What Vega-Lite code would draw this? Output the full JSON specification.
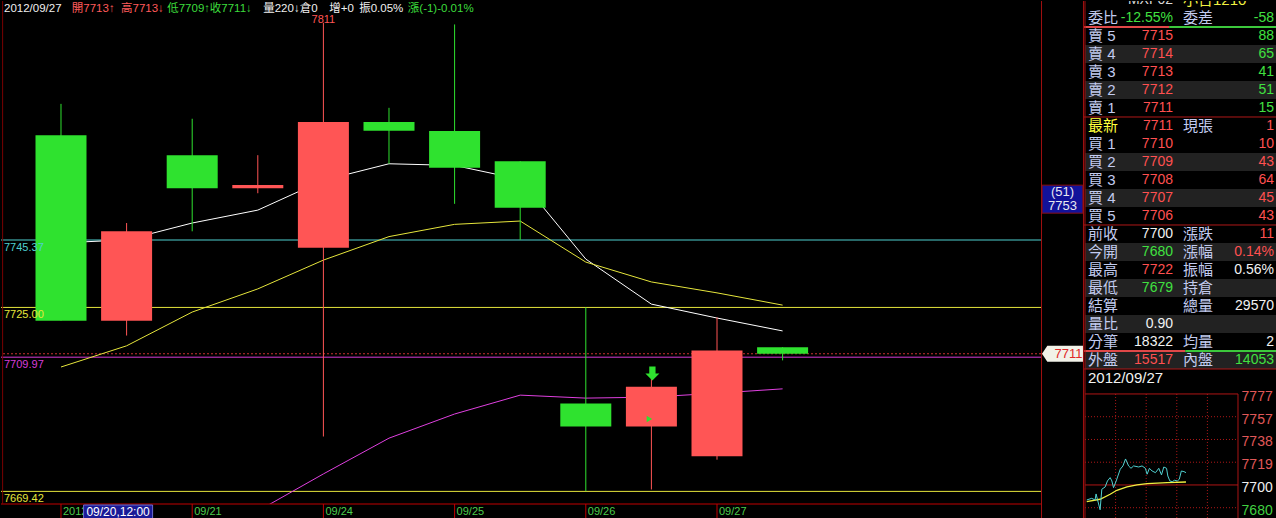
{
  "$schema": "https://vega.github.io/schema/vega-lite/v6.json",
  "background": "#000000",
  "padding": 0,
  "spacing": 0,
  "bounds": "flush",
  "config": {"view": {"stroke": null}, "font": "Liberation Sans", "scale": {"continuousPadding": 0}},
  "datasets": {
    "header": [
      {"col": 0, "t": "2012/09/27", "kind": "flat"},
      {"col": 11.3, "t": "開7713↑", "kind": "up"},
      {"col": 19.5, "t": "高7713↓", "kind": "up"},
      {"col": 27.2, "t": "低7709↑", "kind": "down"},
      {"col": 34.3, "t": "收7711↓", "kind": "down"},
      {"col": 43.2, "t": "量220↓", "kind": "flat"},
      {"col": 49.3, "t": "倉0", "kind": "flat"},
      {"col": 54.2, "t": "增+0", "kind": "flat"},
      {"col": 59.2, "t": "振0.05%", "kind": "flat"},
      {"col": 67.3, "t": "漲(-1)-0.01%", "kind": "down"}
    ],
    "candles": [
      {"i": 1, "day": "2012/09/20", "o": 7777, "h": 7786.5, "l": 7721, "c": 7721},
      {"i": 2, "day": "2012/09/20", "o": 7721, "h": 7750.5, "l": 7716.5, "c": 7748},
      {"i": 3, "day": "2012/09/21", "o": 7771, "h": 7782, "l": 7748, "c": 7761},
      {"i": 4, "day": "2012/09/21", "o": 7761, "h": 7771, "l": 7759.5, "c": 7762},
      {"i": 5, "day": "2012/09/24", "o": 7743, "h": 7811, "l": 7686, "c": 7781},
      {"i": 6, "day": "2012/09/24", "o": 7781, "h": 7785.3, "l": 7768.4, "c": 7778.4},
      {"i": 7, "day": "2012/09/25", "o": 7778.3, "h": 7810.5, "l": 7756.3, "c": 7767.2},
      {"i": 8, "day": "2012/09/25", "o": 7769.2, "h": 7769.2, "l": 7745.4, "c": 7755.1},
      {"i": 9, "day": "2012/09/26", "o": 7696, "h": 7725, "l": 7669.5, "c": 7689},
      {"i": 10, "day": "2012/09/26", "o": 7689, "h": 7704, "l": 7670, "c": 7701},
      {"i": 11, "day": "2012/09/27", "o": 7680, "h": 7722, "l": 7679, "c": 7712},
      {"i": 12, "day": "2012/09/27", "o": 7713, "h": 7713, "l": 7709, "c": 7711}
    ],
    "ma": [
      {"i": 1, "line": "fast", "v": 7744.5}, {"i": 2, "line": "fast", "v": 7745.4},
      {"i": 3, "line": "fast", "v": 7750.5}, {"i": 4, "line": "fast", "v": 7754.4},
      {"i": 5, "line": "fast", "v": 7763.4}, {"i": 6, "line": "fast", "v": 7768.4},
      {"i": 7, "line": "fast", "v": 7767.9}, {"i": 8, "line": "fast", "v": 7763.7},
      {"i": 9, "line": "fast", "v": 7739.6}, {"i": 10, "line": "fast", "v": 7726.0},
      {"i": 11, "line": "fast", "v": 7721.8}, {"i": 12, "line": "fast", "v": 7717.9},
      {"i": 1, "line": "mid", "v": 7707.0}, {"i": 2, "line": "mid", "v": 7713.4},
      {"i": 3, "line": "mid", "v": 7723.6}, {"i": 4, "line": "mid", "v": 7730.6},
      {"i": 5, "line": "mid", "v": 7739.3}, {"i": 6, "line": "mid", "v": 7746.4},
      {"i": 7, "line": "mid", "v": 7750.1}, {"i": 8, "line": "mid", "v": 7751.1},
      {"i": 9, "line": "mid", "v": 7738.7}, {"i": 10, "line": "mid", "v": 7732.7},
      {"i": 11, "line": "mid", "v": 7729.4}, {"i": 12, "line": "mid", "v": 7725.7},
      {"i": 4, "line": "slow", "v": 7663.5}, {"i": 5, "line": "slow", "v": 7674.7},
      {"i": 6, "line": "slow", "v": 7685.5}, {"i": 7, "line": "slow", "v": 7692.8},
      {"i": 8, "line": "slow", "v": 7698.5}, {"i": 9, "line": "slow", "v": 7697.6},
      {"i": 10, "line": "slow", "v": 7697.9}, {"i": 11, "line": "slow", "v": 7699.1},
      {"i": 12, "line": "slow", "v": 7700.4}
    ],
    "levels": [
      {"name": "line1", "p": 7745.37},
      {"name": "line2", "p": 7725.00},
      {"name": "line3", "p": 7709.97},
      {"name": "line4", "p": 7669.42}
    ],
    "last": [{"p": 7711}],
    "signals": [
      {"i": 10, "p": 7705, "kind": "arrow"},
      {"i": 10, "p": 7691.3, "kind": "flag"}
    ],
    "cursor": [{"i": 2, "time": "09/20,12:00", "price": 7753, "n": 51}],
    "table": [
      {"r": -1, "col": 2, "t": "MXF02", "kind": "name"},
      {"r": -1, "col": 3, "t": "小台1210", "kind": "title"},
      {"r": 0, "col": 1, "t": "委比", "kind": "label"},
      {"r": 0, "col": 2, "t": "-12.55%", "kind": "down"},
      {"r": 0, "col": 3, "t": "委差", "kind": "label"},
      {"r": 0, "col": 4, "t": "-58", "kind": "down"},
      {"r": 1, "col": 1, "t": "賣 5", "kind": "label"},
      {"r": 1, "col": 2, "t": "7715", "kind": "up"},
      {"r": 1, "col": 4, "t": "88", "kind": "down"},
      {"r": 2, "col": 1, "t": "賣 4", "kind": "label"},
      {"r": 2, "col": 2, "t": "7714", "kind": "up"},
      {"r": 2, "col": 4, "t": "65", "kind": "down"},
      {"r": 3, "col": 1, "t": "賣 3", "kind": "label"},
      {"r": 3, "col": 2, "t": "7713", "kind": "up"},
      {"r": 3, "col": 4, "t": "41", "kind": "down"},
      {"r": 4, "col": 1, "t": "賣 2", "kind": "label"},
      {"r": 4, "col": 2, "t": "7712", "kind": "up"},
      {"r": 4, "col": 4, "t": "51", "kind": "down"},
      {"r": 5, "col": 1, "t": "賣 1", "kind": "label"},
      {"r": 5, "col": 2, "t": "7711", "kind": "up"},
      {"r": 5, "col": 4, "t": "15", "kind": "down"},
      {"r": 6, "col": 1, "t": "最新", "kind": "latest"},
      {"r": 6, "col": 2, "t": "7711", "kind": "up"},
      {"r": 6, "col": 3, "t": "現張", "kind": "label"},
      {"r": 6, "col": 4, "t": "1", "kind": "up"},
      {"r": 7, "col": 1, "t": "買 1", "kind": "label"},
      {"r": 7, "col": 2, "t": "7710", "kind": "up"},
      {"r": 7, "col": 4, "t": "10", "kind": "up"},
      {"r": 8, "col": 1, "t": "買 2", "kind": "label"},
      {"r": 8, "col": 2, "t": "7709", "kind": "up"},
      {"r": 8, "col": 4, "t": "43", "kind": "up"},
      {"r": 9, "col": 1, "t": "買 3", "kind": "label"},
      {"r": 9, "col": 2, "t": "7708", "kind": "up"},
      {"r": 9, "col": 4, "t": "64", "kind": "up"},
      {"r": 10, "col": 1, "t": "買 4", "kind": "label"},
      {"r": 10, "col": 2, "t": "7707", "kind": "up"},
      {"r": 10, "col": 4, "t": "45", "kind": "up"},
      {"r": 11, "col": 1, "t": "買 5", "kind": "label"},
      {"r": 11, "col": 2, "t": "7706", "kind": "up"},
      {"r": 11, "col": 4, "t": "43", "kind": "up"},
      {"r": 12, "col": 1, "t": "前收", "kind": "label"},
      {"r": 12, "col": 2, "t": "7700", "kind": "flat"},
      {"r": 12, "col": 3, "t": "漲跌", "kind": "label"},
      {"r": 12, "col": 4, "t": "11", "kind": "up"},
      {"r": 13, "col": 1, "t": "今開", "kind": "label"},
      {"r": 13, "col": 2, "t": "7680", "kind": "down"},
      {"r": 13, "col": 3, "t": "漲幅", "kind": "label"},
      {"r": 13, "col": 4, "t": "0.14%", "kind": "up"},
      {"r": 14, "col": 1, "t": "最高", "kind": "label"},
      {"r": 14, "col": 2, "t": "7722", "kind": "up"},
      {"r": 14, "col": 3, "t": "振幅", "kind": "label"},
      {"r": 14, "col": 4, "t": "0.56%", "kind": "flat"},
      {"r": 15, "col": 1, "t": "最低", "kind": "label"},
      {"r": 15, "col": 2, "t": "7679", "kind": "down"},
      {"r": 15, "col": 3, "t": "持倉", "kind": "label"},
      {"r": 16, "col": 1, "t": "結算", "kind": "label"},
      {"r": 16, "col": 3, "t": "總量", "kind": "label"},
      {"r": 16, "col": 4, "t": "29570", "kind": "flat"},
      {"r": 17, "col": 1, "t": "量比", "kind": "label"},
      {"r": 17, "col": 2, "t": "0.90", "kind": "flat"},
      {"r": 18, "col": 1, "t": "分筆", "kind": "label"},
      {"r": 18, "col": 2, "t": "18322", "kind": "flat"},
      {"r": 18, "col": 3, "t": "均量", "kind": "label"},
      {"r": 18, "col": 4, "t": "2", "kind": "flat"},
      {"r": 19, "col": 1, "t": "外盤", "kind": "label"},
      {"r": 19, "col": 2, "t": "15517", "kind": "up"},
      {"r": 19, "col": 3, "t": "內盤", "kind": "label"},
      {"r": 19, "col": 4, "t": "14053", "kind": "down"},
      {"r": 20, "col": 1, "t": "2012/09/27", "kind": "flat"}
    ],
    "ratio": [
      {"r": 0, "side": "buy", "vol": 205},
      {"r": 0, "side": "sell", "vol": 260},
      {"r": 18, "side": "outer", "vol": 15517},
      {"r": 18, "side": "inner", "vol": 14053}
    ],
    "mini_levels": [
      {"lv": 7777}, {"lv": 7757.75}, {"lv": 7738.5}, {"lv": 7719.25}, {"lv": 7700}, {"lv": 7680.75}
    ],
    "mini_times": [{"m": 60}, {"m": 120}, {"m": 180}, {"m": 240}, {"m": 300}],
    "mini_px": [
      {"m": 3.4, "p": 7687.3}, {"m": 13.2, "p": 7688.7}, {"m": 19.7, "p": 7687.3},
      {"m": 21.7, "p": 7692.4}, {"m": 24.3, "p": 7687.9}, {"m": 29.6, "p": 7679},
      {"m": 33, "p": 7696.4}, {"m": 39.5, "p": 7698.3}, {"m": 44, "p": 7703.4},
      {"m": 49.3, "p": 7706.2}, {"m": 52.7, "p": 7703.4}, {"m": 55.9, "p": 7697.7},
      {"m": 61.2, "p": 7703.4}, {"m": 64.5, "p": 7707.6}, {"m": 69.1, "p": 7713.3},
      {"m": 74.4, "p": 7716.1}, {"m": 79.5, "p": 7722}, {"m": 85.5, "p": 7716.1},
      {"m": 90.2, "p": 7714.1}, {"m": 95.3, "p": 7716.1}, {"m": 105.2, "p": 7715.2},
      {"m": 111.9, "p": 7716.1}, {"m": 118.4, "p": 7714.1}, {"m": 121.8, "p": 7709.1},
      {"m": 126.3, "p": 7714.1}, {"m": 131.6, "p": 7711.8}, {"m": 138.2, "p": 7710.4},
      {"m": 144.7, "p": 7714.1}, {"m": 150, "p": 7708.5}, {"m": 154.5, "p": 7715.2},
      {"m": 159.9, "p": 7714.1}, {"m": 162.4, "p": 7707.6}, {"m": 166.4, "p": 7703.4},
      {"m": 171.1, "p": 7702.8}, {"m": 175.7, "p": 7704}, {"m": 181, "p": 7703.4},
      {"m": 184.9, "p": 7704.8}, {"m": 188.9, "p": 7711.8}, {"m": 194, "p": 7711.3},
      {"m": 198, "p": 7710.4}
    ],
    "mini_avg": [
      {"m": 3.4, "p": 7685.9}, {"m": 29.6, "p": 7687.9}, {"m": 49.3, "p": 7692.1},
      {"m": 62.5, "p": 7695.5}, {"m": 82.3, "p": 7698.3}, {"m": 102, "p": 7700},
      {"m": 121.8, "p": 7701.1}, {"m": 161.2, "p": 7701.9}, {"m": 198, "p": 7702.5}
    ]
  },
  "hconcat": [
    {
      "width": 1040,
      "height": 503,
      "resolve": {"scale": {"x": "independent", "color": "independent"}},
      "layer": [
        {
          "data": {"name": "levels"},
          "mark": {"type": "rule", "strokeWidth": 1},
          "encoding": {
            "y": {"field": "p", "type": "quantitative", "scale": {"domain": [7665.61, 7817.58], "nice": false, "zero": false}, "axis": null},
            "color": {"field": "name", "type": "nominal", "scale": {"domain": ["line1", "line2", "line3", "line4"], "range": ["#4fd0d0", "#e6e63c", "#d83cd8", "#e6e63c"]}, "legend": null}
          }
        },
        {
          "data": {"name": "last"},
          "mark": {"type": "rule", "color": "#c83232", "strokeDash": [2, 2]},
          "encoding": {
            "y": {"field": "p", "type": "quantitative", "scale": {"domain": [7665.61, 7817.58], "nice": false, "zero": false}, "axis": null}
          }
        },
        {
          "data": {"name": "ma"},
          "mark": {"type": "line", "strokeWidth": 1, "clip": true},
          "encoding": {
            "x": {"field": "i", "type": "quantitative", "scale": {"domain": [0.0854, 15.939], "nice": false, "zero": false}, "axis": null},
            "y": {"field": "v", "type": "quantitative", "scale": {"domain": [7665.61, 7817.58], "nice": false, "zero": false}, "axis": null},
            "color": {"field": "line", "type": "nominal", "scale": {"domain": ["fast", "mid", "slow"], "range": ["#ffffff", "#e6e63c", "#e040e0"]}, "legend": null}
          }
        },
        {
          "data": {"name": "candles"},
          "mark": {"type": "rule", "strokeWidth": 1},
          "encoding": {
            "x": {"field": "i", "type": "quantitative", "scale": {"domain": [0.0854, 15.939], "nice": false, "zero": false}, "axis": null},
            "y": {"field": "l", "type": "quantitative", "scale": {"domain": [7665.61, 7817.58], "nice": false, "zero": false}, "axis": null},
            "y2": {"field": "h"},
            "color": {"condition": {"test": "datum.c >= datum.o", "value": "#ff5555"}, "value": "#2fe22f"}
          }
        },
        {
          "data": {"name": "candles"},
          "mark": {"type": "bar", "width": 51},
          "encoding": {
            "x": {"field": "i", "type": "quantitative", "scale": {"domain": [0.0854, 15.939], "nice": false, "zero": false}, "axis": null},
            "y": {"field": "o", "type": "quantitative", "scale": {"domain": [7665.61, 7817.58], "nice": false, "zero": false}, "axis": null},
            "y2": {"field": "c"},
            "color": {"condition": {"test": "datum.c >= datum.o", "value": "#ff5555"}, "value": "#2fe22f"}
          }
        },
        {
          "data": {"name": "levels"},
          "mark": {"type": "text", "align": "left", "baseline": "top", "dx": 3, "dy": 2, "fontSize": 11, "font": "Liberation Sans"},
          "encoding": {
            "x": {"datum": 0.0854, "type": "quantitative", "scale": {"domain": [0.0854, 15.939], "nice": false, "zero": false}, "axis": null},
            "y": {"field": "p", "type": "quantitative", "scale": {"domain": [7665.61, 7817.58], "nice": false, "zero": false}, "axis": null},
            "text": {"field": "p", "type": "quantitative", "format": ".2f"},
            "color": {"field": "name", "type": "nominal", "scale": {"domain": ["line1", "line2", "line3", "line4"], "range": ["#4fd0d0", "#e6e63c", "#d83cd8", "#e6e63c"]}, "legend": null}
          }
        },
        {
          "data": {"name": "candles"},
          "transform": [
            {"joinaggregate": [{"op": "max", "field": "h", "as": "hmax"}]},
            {"filter": "datum.h == datum.hmax"}
          ],
          "mark": {"type": "text", "baseline": "bottom", "dy": 2, "fontSize": 11, "color": "#ff5555", "font": "Liberation Sans"},
          "encoding": {
            "x": {"field": "i", "type": "quantitative", "scale": {"domain": [0.0854, 15.939], "nice": false, "zero": false}, "axis": null},
            "y": {"field": "h", "type": "quantitative", "scale": {"domain": [7665.61, 7817.58], "nice": false, "zero": false}, "axis": null},
            "text": {"field": "h", "type": "quantitative", "format": "d"}
          }
        },
        {
          "data": {"name": "signals"},
          "transform": [{"filter": "datum.kind == 'arrow'"}],
          "mark": {"type": "point", "shape": "M-0.45,-1L0.45,-1L0.45,0L1,0L0,1L-1,0L-0.45,0Z", "size": 196, "filled": true, "opacity": 1, "color": "#2fe22f", "xOffset": 1},
          "encoding": {
            "x": {"field": "i", "type": "quantitative", "scale": {"domain": [0.0854, 15.939], "nice": false, "zero": false}, "axis": null},
            "y": {"field": "p", "type": "quantitative", "scale": {"domain": [7665.61, 7817.58], "nice": false, "zero": false}, "axis": null}
          }
        },
        {
          "data": {"name": "signals"},
          "transform": [{"filter": "datum.kind == 'flag'"}],
          "mark": {"type": "point", "shape": "triangle-right", "size": 40, "filled": true, "opacity": 1, "color": "#2fe22f", "xOffset": -2},
          "encoding": {
            "x": {"field": "i", "type": "quantitative", "scale": {"domain": [0.0854, 15.939], "nice": false, "zero": false}, "axis": null},
            "y": {"field": "p", "type": "quantitative", "scale": {"domain": [7665.61, 7817.58], "nice": false, "zero": false}, "axis": null}
          }
        },
        {
          "data": {"name": "last"},
          "mark": {"type": "rule", "color": "#c00000"},
          "encoding": {
            "y": {"datum": 7665.61, "type": "quantitative", "scale": {"domain": [7665.61, 7817.58], "nice": false, "zero": false}, "axis": null}
          }
        },
        {
          "data": {"name": "last"},
          "mark": {"type": "rule", "color": "#7a0000"},
          "encoding": {
            "x": {"datum": 0.11, "type": "quantitative", "scale": {"domain": [0.0854, 15.939], "nice": false, "zero": false}, "axis": null}
          }
        },
        {
          "data": {"name": "candles"},
          "transform": [
            {"window": [{"op": "row_number", "as": "k"}], "groupby": ["day"]},
            {"filter": "datum.k == 1"}
          ],
          "mark": {"type": "rule", "color": "#c00000"},
          "encoding": {
            "x": {"field": "i", "type": "quantitative", "scale": {"domain": [0.0854, 15.939], "nice": false, "zero": false}, "axis": null},
            "y": {"datum": 7665.61, "type": "quantitative", "scale": {"domain": [7665.61, 7817.58], "nice": false, "zero": false}, "axis": null},
            "y2": {"datum": 7661.08}
          }
        },
        {
          "data": {"name": "candles"},
          "transform": [
            {"window": [{"op": "row_number", "as": "k"}], "groupby": ["day"]},
            {"filter": "datum.k == 1"},
            {"calculate": "datum.i == 1 ? datum.day : substring(datum.day, 5)", "as": "lab"}
          ],
          "mark": {"type": "text", "align": "left", "baseline": "middle", "dx": 2, "yOffset": 8, "fontSize": 11, "color": "#4ccc4c", "font": "Liberation Sans"},
          "encoding": {
            "x": {"field": "i", "type": "quantitative", "scale": {"domain": [0.0854, 15.939], "nice": false, "zero": false}, "axis": null},
            "y": {"datum": 7665.61, "type": "quantitative", "scale": {"domain": [7665.61, 7817.58], "nice": false, "zero": false}, "axis": null},
            "text": {"field": "lab"}
          }
        },
        {
          "data": {"name": "cursor"},
          "mark": {"type": "point", "shape": "M-4.93,-1L4.93,-1L4.93,1L-4.93,1Z", "size": 196, "filled": true, "opacity": 1, "fill": "#1a1a96", "stroke": "#6a6ad0", "strokeWidth": 1, "xOffset": -8.5, "yOffset": 8},
          "encoding": {
            "x": {"field": "i", "type": "quantitative", "scale": {"domain": [0.0854, 15.939], "nice": false, "zero": false}, "axis": null},
            "y": {"datum": 7665.61, "type": "quantitative", "scale": {"domain": [7665.61, 7817.58], "nice": false, "zero": false}, "axis": null}
          }
        },
        {
          "data": {"name": "cursor"},
          "mark": {"type": "text", "color": "#ffffff", "fontSize": 12, "font": "Liberation Sans", "xOffset": -8.5, "yOffset": 8, "baseline": "middle"},
          "encoding": {
            "x": {"field": "i", "type": "quantitative", "scale": {"domain": [0.0854, 15.939], "nice": false, "zero": false}, "axis": null},
            "y": {"datum": 7665.61, "type": "quantitative", "scale": {"domain": [7665.61, 7817.58], "nice": false, "zero": false}, "axis": null},
            "text": {"field": "time"}
          }
        },
        {
          "data": {"name": "header"},
          "mark": {"type": "text", "align": "left", "baseline": "middle", "yOffset": 8, "fontSize": 11.5, "font": "Liberation Sans, Noto Sans CJK TC"},
          "encoding": {
            "x": {"field": "col", "type": "quantitative", "scale": {"domain": [-0.5, 172.83], "nice": false, "zero": false}, "axis": null},
            "y": {"datum": 7817.58, "type": "quantitative", "scale": {"domain": [7665.61, 7817.58], "nice": false, "zero": false}, "axis": null},
            "text": {"field": "t"},
            "color": {"field": "kind", "type": "nominal", "scale": {"domain": ["up", "down", "flat"], "range": ["#ff5a5a", "#3cdc3c", "#f0f0f0"]}, "legend": null}
          }
        }
      ]
    },
    {
      "width": 43,
      "height": 518,
      "layer": [
        {
          "data": {"name": "last"},
          "mark": {"type": "rule", "color": "#c83232", "strokeDash": [2, 2]},
          "encoding": {"y": {"field": "p", "type": "quantitative", "scale": {"domain": [7661.08, 7817.58], "nice": false, "zero": false}, "axis": null}}
        },
        {
          "data": {"name": "last"},
          "mark": {"type": "point", "shape": "M-2.56,0L-1.9,-1L2.56,-1L2.56,1L-1.9,1Z", "size": 256, "filled": true, "opacity": 1, "fill": "#f2f2e8", "strokeWidth": 0},
          "encoding": {"y": {"field": "p", "type": "quantitative", "scale": {"domain": [7661.08, 7817.58], "nice": false, "zero": false}, "axis": null}}
        },
        {
          "data": {"name": "last"},
          "mark": {"type": "text", "color": "#e02828", "fontSize": 13, "dx": 6, "baseline": "middle", "font": "Liberation Sans"},
          "encoding": {
            "y": {"field": "p", "type": "quantitative", "scale": {"domain": [7661.08, 7817.58], "nice": false, "zero": false}, "axis": null},
            "text": {"field": "p", "type": "quantitative", "format": "d"}
          }
        },
        {
          "data": {"name": "cursor"},
          "mark": {"type": "point", "shape": "M-1.46,-1L1.46,-1L1.46,1L-1.46,1Z", "size": 784, "filled": true, "opacity": 1, "fill": "#12129a", "stroke": "#8a1010", "strokeWidth": 1, "yOffset": -15.6},
          "encoding": {"y": {"field": "price", "type": "quantitative", "scale": {"domain": [7661.08, 7817.58], "nice": false, "zero": false}, "axis": null}}
        },
        {
          "data": {"name": "cursor"},
          "transform": [{"calculate": "'(' + datum.n + ')'", "as": "nlabel"}],
          "mark": {"type": "text", "color": "#e8e8f0", "fontSize": 13, "yOffset": -22.6, "baseline": "middle", "font": "Liberation Sans"},
          "encoding": {
            "y": {"field": "price", "type": "quantitative", "scale": {"domain": [7661.08, 7817.58], "nice": false, "zero": false}, "axis": null},
            "text": {"field": "nlabel"}
          }
        },
        {
          "data": {"name": "cursor"},
          "mark": {"type": "text", "color": "#e8e8f0", "fontSize": 13, "yOffset": -8.6, "baseline": "middle", "font": "Liberation Sans"},
          "encoding": {
            "y": {"field": "price", "type": "quantitative", "scale": {"domain": [7661.08, 7817.58], "nice": false, "zero": false}, "axis": null},
            "text": {"field": "price", "type": "quantitative", "format": "d"}
          }
        },
        {
          "data": {"name": "last"},
          "mark": {"type": "rule", "color": "#a01010"},
          "encoding": {"x": {"datum": 0.012, "type": "quantitative", "scale": {"domain": [0, 1], "nice": false, "zero": false}, "axis": null}}
        },
        {
          "data": {"name": "last"},
          "mark": {"type": "rule", "color": "#a01010"},
          "encoding": {"x": {"datum": 0.988, "type": "quantitative", "scale": {"domain": [0, 1], "nice": false, "zero": false}, "axis": null}}
        }
      ]
    },
    {
      "width": 193,
      "height": 518,
      "resolve": {"scale": {"x": "independent", "y": "independent", "color": "independent"}},
      "layer": [
        {
          "data": {"name": "table"},
          "transform": [{"filter": "datum.col == 1 && indexof([2, 4, 8, 10, 13, 15, 17, 19], datum.r) >= 0"}],
          "mark": {"type": "tick", "orient": "horizontal", "thickness": 18, "size": 191, "color": "#222222", "opacity": 1},
          "encoding": {"y": {"field": "r", "type": "quantitative", "scale": {"domain": [-0.944, 27.833], "reverse": true, "nice": false, "zero": false}, "axis": null}}
        },
        {
          "data": {"name": "table"},
          "transform": [{"filter": "datum.col == 1 && indexof([5, 11, 19], datum.r) >= 0"}],
          "mark": {"type": "rule", "color": "#b01818", "yOffset": 9},
          "encoding": {"y": {"field": "r", "type": "quantitative", "scale": {"domain": [-0.944, 27.833], "reverse": true, "nice": false, "zero": false}, "axis": null}}
        },
        {
          "data": {"name": "ratio"},
          "transform": [{"window": [{"op": "row_number", "as": "seq"}], "groupby": ["r"]}],
          "mark": {"type": "bar", "orient": "horizontal", "size": 2, "yOffset": 9},
          "encoding": {
            "x": {"field": "vol", "type": "quantitative", "stack": "normalize", "scale": {"domain": [0, 1], "nice": false, "zero": false}, "axis": null},
            "y": {"field": "r", "type": "quantitative", "scale": {"domain": [-0.944, 27.833], "reverse": true, "nice": false, "zero": false}, "axis": null},
            "order": {"field": "seq"},
            "color": {"field": "side", "type": "nominal", "scale": {"domain": ["buy", "sell", "outer", "inner"], "range": ["#e04848", "#3cc83c", "#e04848", "#3cc83c"]}, "legend": null}
          }
        },
        {
          "data": {"name": "table"},
          "transform": [{"filter": "datum.col % 2 == 1"}],
          "mark": {"type": "text", "align": "left", "baseline": "middle", "fontSize": 15, "font": "Liberation Sans, Noto Sans CJK TC", "clip": true},
          "encoding": {
            "x": {"field": "col", "type": "quantitative", "scale": {"domain": [1, 2, 3, 4], "range": [4, 89, 99, 190], "nice": false, "zero": false}, "axis": null},
            "y": {"field": "r", "type": "quantitative", "scale": {"domain": [-0.944, 27.833], "reverse": true, "nice": false, "zero": false}, "axis": null},
            "text": {"field": "t"},
            "color": {"field": "kind", "type": "nominal", "scale": {"domain": ["label", "latest", "up", "down", "flat", "title", "name"], "range": ["#c2cbef", "#ffff3c", "#ff5050", "#40e040", "#f2f2f2", "#f0f040", "#d8d8d8"]}, "legend": null}
          }
        },
        {
          "data": {"name": "table"},
          "transform": [{"filter": "datum.col % 2 == 0"}],
          "mark": {"type": "text", "align": "right", "baseline": "middle", "fontSize": 14, "font": "Liberation Sans, Noto Sans CJK TC", "clip": true},
          "encoding": {
            "x": {"field": "col", "type": "quantitative", "scale": {"domain": [1, 2, 3, 4], "range": [4, 89, 99, 190], "nice": false, "zero": false}, "axis": null},
            "y": {"field": "r", "type": "quantitative", "scale": {"domain": [-0.944, 27.833], "reverse": true, "nice": false, "zero": false}, "axis": null},
            "text": {"field": "t"},
            "color": {"field": "kind", "type": "nominal", "scale": {"domain": ["label", "latest", "up", "down", "flat", "title", "name"], "range": ["#c2cbef", "#ffff3c", "#ff5050", "#40e040", "#f2f2f2", "#f0f040", "#d8d8d8"]}, "legend": null}
          }
        },
        {
          "data": {"name": "mini_levels"},
          "mark": {"type": "rule", "color": "#b01818"},
          "encoding": {
            "x": {"datum": 0, "type": "quantitative", "scale": {"domain": [-1.96, 376.5], "nice": false, "zero": false}, "axis": null},
            "x2": {"datum": 300},
            "y": {"field": "lv", "type": "quantitative", "scale": {"domain": [7671.2, 8109.48], "nice": false, "zero": false}, "axis": null},
            "strokeDash": {"condition": {"test": "datum.lv == 7700 || datum.lv == 7777", "value": [1, 0]}, "value": [1, 2]}
          }
        },
        {
          "data": {"name": "mini_times"},
          "mark": {"type": "rule", "color": "#b01818"},
          "encoding": {
            "x": {"field": "m", "type": "quantitative", "scale": {"domain": [-1.96, 376.5], "nice": false, "zero": false}, "axis": null},
            "y": {"datum": 7777, "type": "quantitative", "scale": {"domain": [7671.2, 8109.48], "nice": false, "zero": false}, "axis": null},
            "y2": {"datum": 7671.2},
            "strokeDash": {"condition": {"test": "datum.m == 300", "value": [1, 0]}, "value": [1, 2]}
          }
        },
        {
          "data": {"name": "last"},
          "mark": {"type": "rule", "color": "#a01010"},
          "encoding": {"x": {"datum": 0, "type": "quantitative", "scale": {"domain": [-1.96, 376.5], "nice": false, "zero": false}, "axis": null}}
        },
        {
          "data": {"name": "mini_avg"},
          "mark": {"type": "line", "color": "#f0f040", "strokeWidth": 1.3},
          "encoding": {
            "x": {"field": "m", "type": "quantitative", "scale": {"domain": [-1.96, 376.5], "nice": false, "zero": false}, "axis": null},
            "y": {"field": "p", "type": "quantitative", "scale": {"domain": [7671.2, 8109.48], "nice": false, "zero": false}, "axis": null}
          }
        },
        {
          "data": {"name": "mini_px"},
          "mark": {"type": "line", "color": "#50d0d0", "strokeWidth": 1},
          "encoding": {
            "x": {"field": "m", "type": "quantitative", "scale": {"domain": [-1.96, 376.5], "nice": false, "zero": false}, "axis": null},
            "y": {"field": "p", "type": "quantitative", "scale": {"domain": [7671.2, 8109.48], "nice": false, "zero": false}, "axis": null}
          }
        },
        {
          "data": {"name": "mini_levels"},
          "transform": [{"calculate": "format(floor(datum.lv), 'd')", "as": "label"}],
          "mark": {"type": "text", "align": "left", "baseline": "middle", "yOffset": 3, "fontSize": 14, "font": "Liberation Sans"},
          "encoding": {
            "x": {"datum": 307, "type": "quantitative", "scale": {"domain": [-1.96, 376.5], "nice": false, "zero": false}, "axis": null},
            "y": {"field": "lv", "type": "quantitative", "scale": {"domain": [7671.2, 8109.48], "nice": false, "zero": false}, "axis": null},
            "text": {"field": "label"},
            "color": {"condition": [{"test": "datum.lv > 7700", "value": "#e05858"}, {"test": "datum.lv == 7700", "value": "#f0f0f0"}], "value": "#40d040"}
          }
        }
      ]
    }
  ]
}
